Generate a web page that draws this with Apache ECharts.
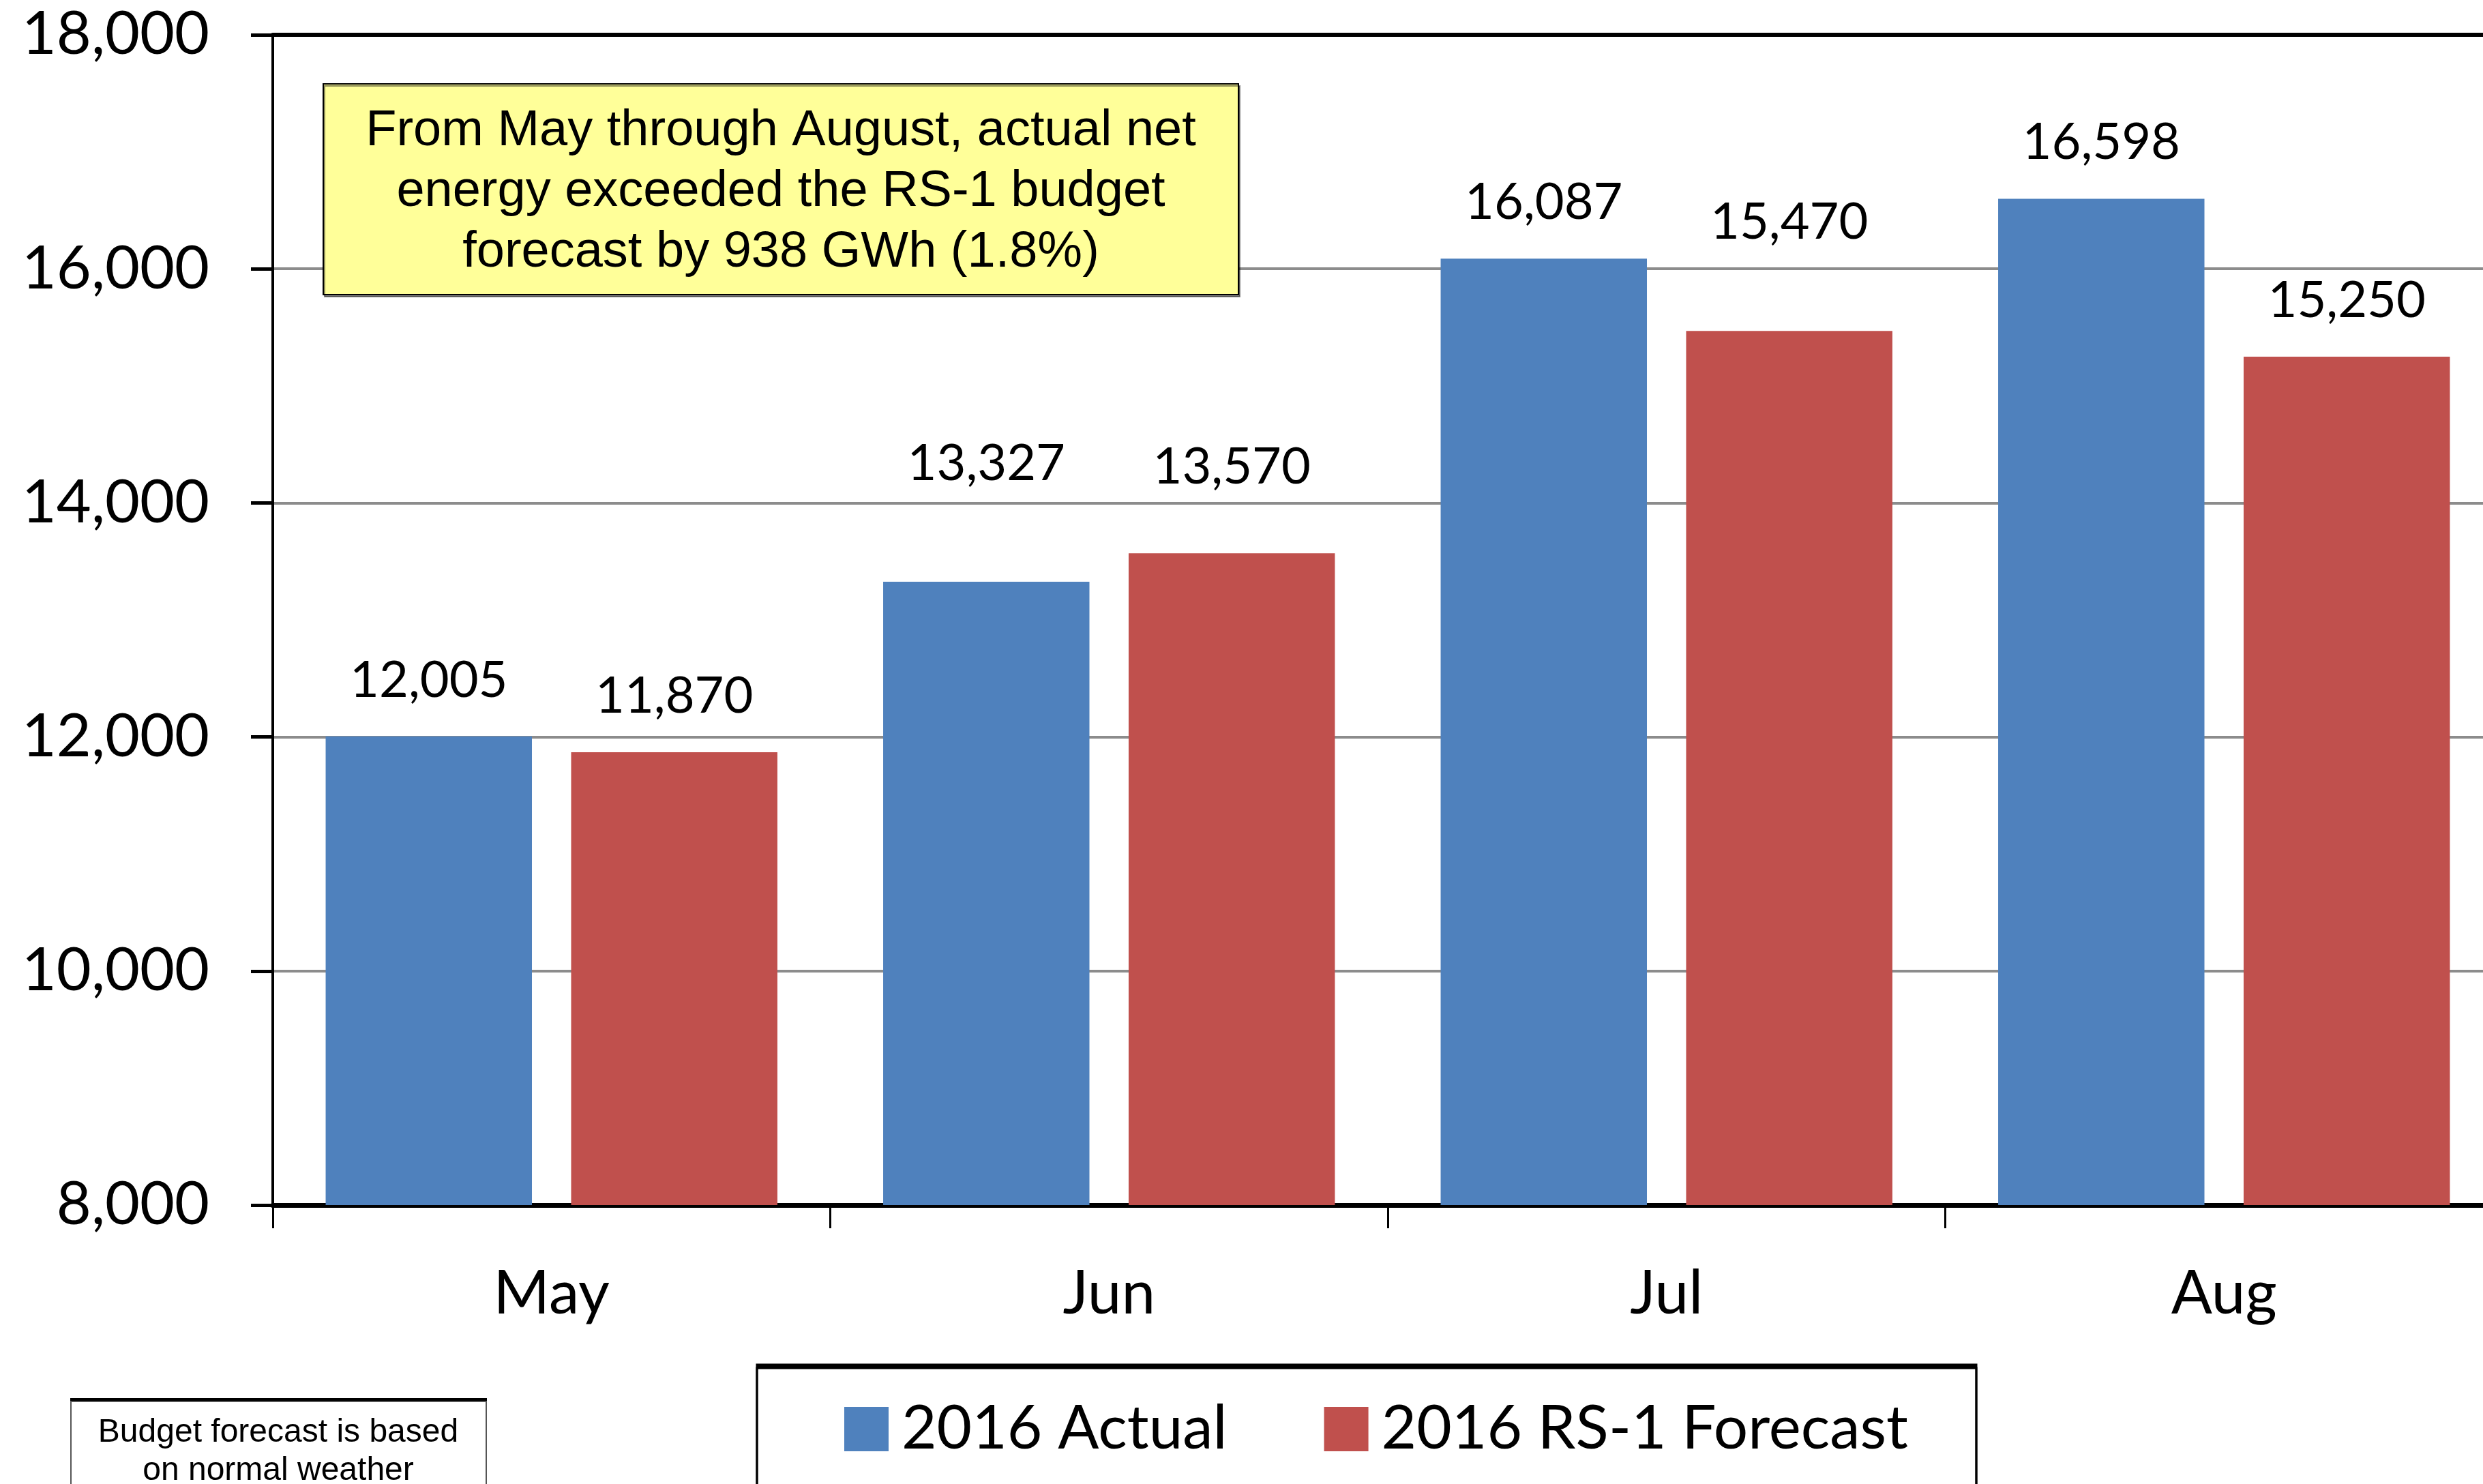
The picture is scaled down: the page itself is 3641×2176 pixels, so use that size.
<!DOCTYPE html>
<html>
<head>
<meta charset="utf-8">
<title>Net energy vs RS-1 budget</title>
<script src="https://cdn.jsdelivr.net/npm/echarts@6/dist/echarts.min.js"></script>
<style>
  html, body { margin: 0; padding: 0; background: #fff; }
  #chart { width: 3641px; height: 2176px; }
</style>
</head>
<body>
<div id="chart"></div>
<script>
  // data
  const months = ['May', 'Jun', 'Jul', 'Aug'];
  const actual2016 = [12005, 13327, 16087, 16598];
  const forecast2016 = [11870, 13570, 15470, 15250];
  const yTicks = [8000, 10000, 12000, 14000, 16000, 18000];
  // extra lift of some value labels (they were moved by hand in the original)
  const actualLabelLift = [0, 91, 0, 0];
  const forecastLabelLift = [0, 44, 77, 0];

  const blue = '#4F81BD';
  const red = '#C0504D';
  const calibri = 'Lato, "Noto Sans", sans-serif';
  const arial = '"Liberation Sans", Arial, sans-serif';

  const fmt = v => Number(v).toLocaleString('en-US');

  function withLabels(values, lift) {
    return values.map((v, i) => ({
      value: v,
      label: { offset: [0, -lift[i]] }
    }));
  }

  const myChart = echarts.init(document.getElementById('chart'));

  myChart.setOption({
    animation: false,
    backgroundColor: '#fff',
    grid: {
      // the plot runs a little past the right edge of the picture
      left: 400,
      top: 51,
      width: 3270,
      bottom: 409,
      outerBoundsMode: 'none'
    },
    xAxis: [
      {
        type: 'category',
        data: months,
        axisLine: { lineStyle: { color: '#000', width: 7 } },
        axisTick: { show: true, length: 34, lineStyle: { color: '#000', width: 3 } },
        axisLabel: {
          margin: 86,
          fontFamily: calibri,
          fontSize: 89,
          color: '#000'
        }
      },
      {
        // black frame line along the top of the plot
        type: 'category',
        position: 'top',
        data: months,
        axisLine: { lineStyle: { color: '#000', width: 6 } },
        axisTick: { show: false },
        axisLabel: { show: false }
      }
    ],
    yAxis: {
      type: 'value',
      min: yTicks[0],
      max: yTicks[yTicks.length - 1],
      interval: 2000,
      axisLine: { show: true, lineStyle: { color: '#000', width: 4 } },
      axisTick: { show: true, length: 32, lineStyle: { color: '#000', width: 5 } },
      splitLine: { lineStyle: { color: '#8c8c8c', width: 4 } },
      axisLabel: {
        margin: 93,
        fontFamily: calibri,
        fontSize: 88,
        color: '#000',
        formatter: fmt
      }
    },
    legend: {
      left: 1110,
      top: 2006,
      orient: 'horizontal',
      itemWidth: 65,
      itemHeight: 65,
      itemGap: 142,
      padding: [45, 100, 80, 128],
      borderColor: '#000',
      borderWidth: 3,
      backgroundColor: '#fff',
      shadowColor: '#000',
      shadowBlur: 0,
      shadowOffsetY: -5,
      icon: 'rect',
      textStyle: {
        fontFamily: calibri,
        fontSize: 89,
        color: '#000',
        padding: [0, 0, 0, 14]
      },
      data: ['2016 Actual', '2016 RS-1 Forecast']
    },
    graphic: [
      {
        type: 'rect',
        shape: { x: 474, y: 123, width: 1342, height: 309 },
        style: {
          fill: '#FFFF99',
          stroke: '#000',
          lineWidth: 2,
          shadowColor: 'rgba(0,0,0,0.45)',
          shadowOffsetX: 2,
          shadowOffsetY: 3
        },
        z: 10
      },
      {
        type: 'text',
        x: 1145,
        y: 282,
        style: {
          text: 'From May through August, actual net\nenergy exceeded the RS-1 budget\nforecast by 938 GWh (1.8%)',
          fontFamily: arial,
          fontSize: 74,
          lineHeight: 89,
          fill: '#000',
          align: 'center',
          verticalAlign: 'middle'
        },
        z: 11
      },
      {
        type: 'rect',
        shape: { x: 104, y: 2055, width: 609, height: 200 },
        style: {
          fill: '#fff',
          stroke: '#555',
          lineWidth: 2,
          shadowColor: '#000',
          shadowOffsetY: -4
        },
        z: 10
      },
      {
        type: 'text',
        x: 408,
        y: 2129,
        style: {
          text: 'Budget forecast is based\non normal weather',
          fontFamily: arial,
          fontSize: 48,
          lineHeight: 56,
          fill: '#000',
          align: 'center',
          verticalAlign: 'middle'
        },
        z: 11
      }
    ],
    series: [
      {
        name: '2016 Actual',
        type: 'bar',
        barWidth: '37%',
        barGap: '19%',
        itemStyle: { color: blue },
        label: {
          show: true,
          position: 'top',
          distance: 45,
          fontFamily: calibri,
          fontSize: 74,
          color: '#000',
          formatter: p => fmt(p.value)
        },
        data: withLabels(actual2016, actualLabelLift)
      },
      {
        name: '2016 RS-1 Forecast',
        type: 'bar',
        barWidth: '37%',
        itemStyle: { color: red },
        label: {
          show: true,
          position: 'top',
          distance: 45,
          fontFamily: calibri,
          fontSize: 74,
          color: '#000',
          formatter: p => fmt(p.value)
        },
        data: withLabels(forecast2016, forecastLabelLift)
      }
    ]
  });

  window.addEventListener('resize', () => {
    myChart.resize();
  });
</script>
</body>
</html>
